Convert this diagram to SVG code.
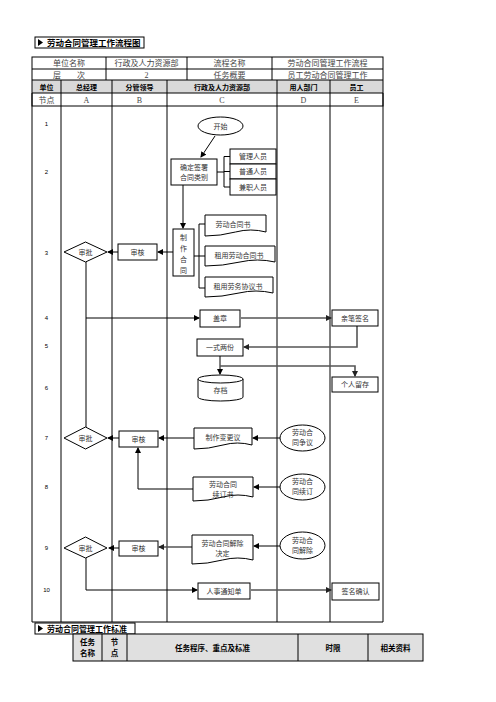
<svg xmlns="http://www.w3.org/2000/svg" width="496" height="702" viewBox="0 0 496 702">
<defs>
<marker id="ah" markerWidth="6" markerHeight="6" refX="5" refY="3" orient="auto" markerUnits="userSpaceOnUse">
<path d="M0,0 L6,3 L0,6 Z" fill="#000"/>
</marker>
<marker id="ahg" markerWidth="6" markerHeight="6" refX="5" refY="3" orient="auto" markerUnits="userSpaceOnUse">
<path d="M0,0 L6,3 L0,6 Z" fill="#222"/>
</marker>
<style>
.grid{stroke:#000;stroke-width:1;fill:none}
.hdr{fill:#d9d9d9;stroke:none}
.t{font-family:"Liberation Serif","Noto Sans CJK SC",serif;font-size:8px;fill:#444;text-anchor:middle}
.h{font-family:"Noto Sans CJK SC","Liberation Sans",sans-serif;font-size:7px;font-weight:bold;fill:#000;text-anchor:middle}
.n{font-family:"Liberation Serif","Noto Sans CJK SC",serif;font-size:7px;fill:#333;text-anchor:middle}
.num{font-family:"Liberation Sans",sans-serif;font-size:6px;fill:#000;text-anchor:middle}
.title{font-family:"Noto Sans CJK SC","Liberation Sans",sans-serif;font-size:8.5px;font-weight:bold;fill:#000}
.box{fill:#fff;stroke:#000;stroke-width:1}
.c{fill:none;stroke:#000;stroke-width:1}
.cg{fill:none;stroke:#555;stroke-width:1.6}
</style>
</defs>

<!-- Title 1 -->
<g id="title1">
<rect x="35" y="37" width="109" height="11" fill="#fff" stroke="#000"/>
<polygon points="38,39 43,42.5 38,46" fill="#000"/>
<text class="title" x="47" y="45.5">劳动合同管理工作流程图</text>
</g>

<!-- Header table -->
<g id="header-table">
<rect class="hdr" x="32" y="80" width="351" height="13"/>
<rect class="grid" x="32" y="57" width="351" height="49"/>
<line class="grid" x1="32" y1="69" x2="383" y2="69"/>
<line class="grid" x1="32" y1="80" x2="383" y2="80"/>
<line class="grid" x1="32" y1="93" x2="383" y2="93"/>
<line class="grid" x1="106" y1="57" x2="106" y2="80"/>
<line class="grid" x1="187" y1="57" x2="187" y2="80"/>
<line class="grid" x1="272" y1="57" x2="272" y2="80"/>
<text class="t" x="69" y="66">单位名称</text>
<text class="t" x="146.5" y="66">行政及人力资源部</text>
<text class="t" x="229.5" y="66">流程名称</text>
<text class="t" x="327.5" y="66">劳动合同管理工作流程</text>
<text class="t" x="69" y="77.5">层　　次</text>
<text class="t" x="146.5" y="77.5">2</text>
<text class="t" x="229.5" y="77.5">任务概要</text>
<text class="t" x="327.5" y="77.5">员工劳动合同管理工作</text>
<text class="h" x="46.5" y="89.5">单位</text>
<text class="h" x="86.5" y="89.5">总经理</text>
<text class="h" x="139.5" y="89.5">分管领导</text>
<text class="h" x="222" y="89.5">行政及人力资源部</text>
<text class="h" x="303.5" y="89.5">用人部门</text>
<text class="h" x="356.5" y="89.5">员工</text>
<text class="t" x="46.5" y="102.5">节点</text>
<text class="t" x="86.5" y="102.5">A</text>
<text class="t" x="139.5" y="102.5">B</text>
<text class="t" x="222" y="102.5">C</text>
<text class="t" x="303.5" y="102.5">D</text>
<text class="t" x="356.5" y="102.5">E</text>
</g>

<!-- Swimlane body -->
<g id="lanes">
<line class="grid" x1="32" y1="93" x2="32" y2="622"/>
<line class="grid" x1="61" y1="80" x2="61" y2="622"/>
<line class="grid" x1="112" y1="80" x2="112" y2="622"/>
<line class="grid" x1="167" y1="80" x2="167" y2="622"/>
<line class="grid" x1="277" y1="80" x2="277" y2="622"/>
<line class="grid" x1="330" y1="80" x2="330" y2="622"/>
<line class="grid" x1="383" y1="93" x2="383" y2="622"/>
<line class="grid" x1="32" y1="622" x2="383" y2="622"/>
<text class="num" x="46.5" y="126">1</text>
<text class="num" x="46.5" y="174">2</text>
<text class="num" x="46.5" y="255">3</text>
<text class="num" x="46.5" y="320">4</text>
<text class="num" x="46.5" y="348">5</text>
<text class="num" x="46.5" y="390">6</text>
<text class="num" x="46.5" y="440">7</text>
<text class="num" x="46.5" y="489">8</text>
<text class="num" x="46.5" y="550">9</text>
<text class="num" x="46.5" y="592">10</text>
</g>

<!-- Connectors -->
<g id="connectors">
<line class="c" x1="215" y1="136" x2="201" y2="157" marker-end="url(#ah)"/>
<path class="c" d="M217,172 H224 M224,156.5 V187 M224,156.5 H230 M224,171.5 H230 M224,187 H230"/>
<path class="c" d="M183,185 V228" marker-end="url(#ah)"/>
<path class="c" d="M194,256 H199 M199,224 V288 M199,224 H205 M199,256 H205 M199,288 H205"/>
<path class="c" d="M173,252 H158" marker-end="url(#ah)"/>
<path class="c" d="M118,252 H108" marker-end="url(#ah)"/>
<path class="c" d="M86,262 V427"/>
<path class="c" d="M86,318 H199" marker-end="url(#ah)"/>
<path class="cg" d="M241,318 H331" marker-end="url(#ahg)"/>
<path class="cg" d="M357,326 V347 H244" marker-end="url(#ahg)"/>
<path class="c" d="M220,356 V374" marker-end="url(#ah)"/>
<path class="cg" d="M220,366 H355 V376" marker-end="url(#ahg)"/>
<path class="c" d="M280,438 H253" marker-end="url(#ah)"/>
<path class="c" d="M194,438 H159" marker-end="url(#ah)"/>
<path class="c" d="M119,438 H108" marker-end="url(#ah)"/>
<path class="c" d="M280,487 H254" marker-end="url(#ah)"/>
<path class="c" d="M193,489 H138 V448" marker-end="url(#ah)"/>
<path class="c" d="M280,546 H254" marker-end="url(#ah)"/>
<path class="cg" d="M192,547 H159" marker-end="url(#ahg)"/>
<path class="c" d="M119,548 H109" marker-end="url(#ah)"/>
<path class="c" d="M86,558 V590 H197" marker-end="url(#ah)"/>
<path class="cg" d="M251,590 H331" marker-end="url(#ahg)"/>
</g>

<!-- Nodes -->
<g id="start"><ellipse class="box" cx="220.5" cy="126" rx="22.5" ry="9"/><text class="n" x="220.5" y="128.5">开始</text></g>
<g id="decide-type"><rect class="box" x="171" y="159" width="46" height="26"/><text class="n" x="194" y="169.5">确定签署</text><text class="n" x="194" y="180">合同类别</text></g>
<g id="mgr-staff"><rect class="box" x="230" y="149" width="46" height="15"/><text class="n" x="253" y="159">管理人员</text></g>
<g id="normal-staff"><rect class="box" x="230" y="164" width="46" height="15"/><text class="n" x="253" y="174">普通人员</text></g>
<g id="part-staff"><rect class="box" x="230" y="179" width="46" height="16"/><text class="n" x="253" y="189.5">兼职人员</text></g>
<g id="make-contract"><rect class="box" x="173" y="229" width="21" height="47"/>
<text class="n" x="183.5" y="240">制</text><text class="n" x="183.5" y="251">作</text><text class="n" x="183.5" y="262">合</text><text class="n" x="183.5" y="273">同</text></g>
<g id="doc-contract"><path class="box" d="M205,215 H266 V232 Q250.75,228 235.5,232 T205,236 Z"/><text class="n" x="233" y="227">劳动合同书</text></g>
<g id="doc-rent-contract"><path class="box" d="M205,246 H275 V262 Q257.5,258 240,262 T205,266 Z"/><text class="n" x="239" y="258">租用劳动合同书</text></g>
<g id="doc-rent-service"><path class="box" d="M205,277 H273 V293 Q256,289 239,293 T205,297 Z"/><text class="n" x="238" y="289">租用劳务协议书</text></g>
<g id="review-3"><rect class="box" x="118" y="244" width="39" height="16"/><text class="n" x="137.5" y="254.5">审核</text></g>
<g id="approve-3"><polygon class="box" points="64,252 85.5,242 107,252 85.5,262"/><text class="n" x="85.5" y="254.5">审批</text></g>
<g id="seal"><rect class="box" x="200" y="310" width="40" height="17"/><text class="n" x="220" y="321">盖章</text></g>
<g id="sign"><rect class="box" x="332" y="310" width="46" height="16"/><text class="n" x="355" y="320.5">亲笔签名</text></g>
<g id="two-copies"><rect class="box" x="197" y="339" width="46" height="17"/><text class="n" x="220" y="350">一式两份</text></g>
<g id="archive"><path class="box" d="M198,379 A22.5,4 0 0,1 243,379 V397 A22.5,4 0 0,1 198,397 Z"/><path class="c" d="M198,379 A22.5,4 0 0,0 243,379"/><text class="n" x="220.5" y="393">存档</text></g>
<g id="personal-keep"><rect class="box" x="332" y="377" width="46" height="15"/><text class="n" x="355" y="387">个人留存</text></g>
<g id="approve-7"><polygon class="box" points="64,438 85.5,427 107,438 85.5,449"/><text class="n" x="85.5" y="440.5">审批</text></g>
<g id="review-7"><rect class="box" x="119" y="431" width="39" height="16"/><text class="n" x="138.5" y="441.5">审核</text></g>
<g id="doc-change"><path class="box" d="M194,428 H252 V445 Q237.5,441 223,445 T194,449 Z"/><text class="n" x="223" y="440">制作变更议</text></g>
<g id="dispute"><ellipse class="box" cx="302.5" cy="438" rx="22.5" ry="13"/><text class="n" x="302.5" y="435">劳动合</text><text class="n" x="302.5" y="445">同争议</text></g>
<g id="doc-renew"><path class="box" d="M193,477 H253 V497 Q238,493 223,497 T193,501 Z"/><text class="n" x="223" y="487">劳动合同</text><text class="n" x="223" y="497">续订书</text></g>
<g id="renew"><ellipse class="box" cx="302.5" cy="487" rx="22.5" ry="13"/><text class="n" x="302.5" y="484">劳动合</text><text class="n" x="302.5" y="494">同续订</text></g>
<g id="approve-9"><polygon class="box" points="64,548 85.5,537 107,548 85.5,558"/><text class="n" x="85.5" y="550.5">审批</text></g>
<g id="review-9"><rect class="box" x="119" y="541" width="39" height="15"/><text class="n" x="138.5" y="551">审核</text></g>
<g id="doc-terminate"><path class="box" d="M192,535 H253 V560 Q237.75,556 222.5,560 T192,564 Z"/><text class="n" x="222.5" y="546">劳动合同解除</text><text class="n" x="222.5" y="556">决定</text></g>
<g id="terminate"><ellipse class="box" cx="302.5" cy="545.5" rx="22.5" ry="13.5"/><text class="n" x="302.5" y="542.5">劳动合</text><text class="n" x="302.5" y="552.5">同解除</text></g>
<g id="notice"><rect class="box" x="198" y="583" width="52" height="16"/><text class="n" x="224" y="593.5">人事通知单</text></g>
<g id="confirm"><rect class="box" x="332" y="583" width="47" height="17"/><text class="n" x="355.5" y="594">签名确认</text></g>

<!-- Title 2 and standard table -->
<g id="title2">
<rect x="35" y="623" width="100" height="11" fill="#fff" stroke="#000"/>
<polygon points="38,625 43,628.5 38,632" fill="#000"/>
<text class="title" x="47" y="631.5" style="font-size:8px">劳动合同管理工作标准</text>
</g>
<g id="standard-table">
<rect x="73" y="634" width="350" height="27" fill="#e0e0e0" stroke="#000"/>
<line class="grid" x1="102" y1="634" x2="102" y2="661"/>
<line class="grid" x1="127" y1="634" x2="127" y2="661"/>
<line class="grid" x1="298" y1="634" x2="298" y2="661"/>
<line class="grid" x1="368" y1="634" x2="368" y2="661"/>
<text class="h" x="87.5" y="645" style="font-size:7.5px">任务</text>
<text class="h" x="87.5" y="656" style="font-size:7.5px">名称</text>
<text class="h" x="114.5" y="645" style="font-size:7.5px">节</text>
<text class="h" x="114.5" y="656" style="font-size:7.5px">点</text>
<text class="h" x="212.5" y="650.5" style="font-size:7.5px">任务程序、重点及标准</text>
<text class="h" x="333" y="650.5" style="font-size:7.5px">时限</text>
<text class="h" x="395.5" y="650.5" style="font-size:7.5px">相关资料</text>
</g>
</svg>
